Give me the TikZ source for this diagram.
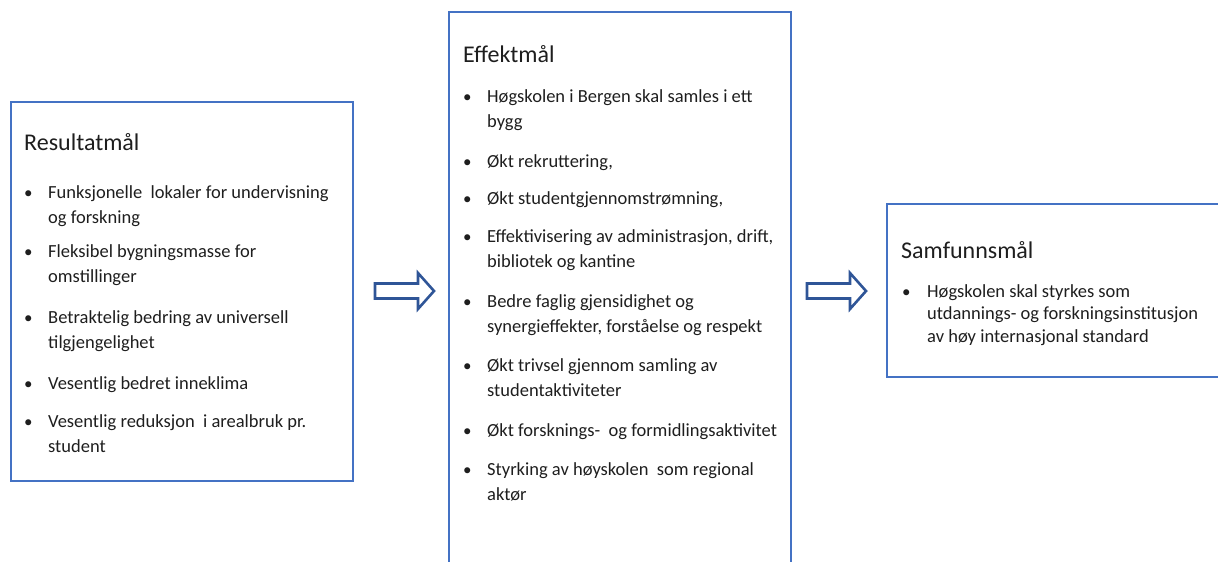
\documentclass[tikz,border=0pt]{standalone}
\usepackage{fontspec}
\setmainfont{Carlito}
\usetikzlibrary{positioning}
\definecolor{boxblue}{HTML}{4472C4}
\definecolor{arrowblue}{HTML}{2F5597}
\definecolor{inkgray}{HTML}{1E1E1E}
\newcommand{\goallines}[1]{\begin{tabular}[t]{@{}l@{}}#1\end{tabular}}
\tikzset{goalbox/.style={draw=boxblue, line width=2pt, inner sep=0, outer sep=0}}
\tikzset{goaltitle/.style={anchor=base west, inner sep=0, text=inkgray, font=\fontsize{24}{28}\selectfont}}
\tikzset{goalitem/.style={anchor=base west, inner sep=0, text=inkgray, font=\fontsize{18.5}{25}\selectfont}}
\tikzset{goalbullet/.style={anchor=base west, inner sep=0, text=inkgray, font=\fontsize{17}{25}\selectfont}}
\tikzset{hollowarrow/.pic={
        code={
        \draw[arrowblue, line width=2.6pt, line join=miter]
            (0,-7.5) -- (43,-7.5) -- (43,-18) -- (59,0) -- (43,18) -- (43,7.5) -- (0,7.5) -- cycle;
 	}
  }
}

\begin{document}
\begin{tikzpicture}[x=1pt,y=-1pt]
\clip (0,0) rectangle (1218,562);
% Boxes
\node[goalbox, anchor=north west, minimum width=342pt, minimum height=379pt] (result) at (11,102) {};
\node[goalbox, anchor=north west, minimum width=342pt, minimum height=570pt] (effect) at (449,12) {};
\node[goalbox, anchor=north west, minimum width=360pt, minimum height=173pt] (society) at (887,204) {};
%% Arrows
\path (375,291) pic[local bounding box=arrow1] {hollowarrow};
\path (807,291) pic[local bounding box=arrow2] {hollowarrow};
% Resultatmaal
\node[goaltitle] (resulttitle) at (24,150) {Resultatmål};
\foreach \y/\txt [count=\i] in {
    198/{Funksjonelle\ \ lokaler for undervisning\\og forskning},
    257/{Fleksibel bygningsmasse for\\omstillinger},
    323/{Betraktelig bedring av universell\\tilgjengelighet},
    389/{Vesentlig bedret inneklima},
    427/{Vesentlig reduksjon\ \ i arealbruk pr.\\student}}{
    \node[goalbullet] (resultdot\i) at (24,\y) {\textbullet};
    \node[goalitem] (resultitem\i) at (48,\y) {\goallines{\txt}};
}
% Effektmaal
\node[goaltitle] (effecttitle) at (463,62) {Effektmål};
\foreach \y/\txt [count=\i] in {
    102/{Høgskolen i Bergen skal samles i ett\\bygg},
    167/{Økt rekruttering,},
    204/{Økt studentgjennomstrømning,},
    242/{Effektivisering av administrasjon, drift,\\bibliotek og kantine},
    307/{Bedre faglig gjensidighet og\\synergieffekter, forståelse og respekt},
    371/{Økt trivsel gjennom samling av\\studentaktiviteter},
    436/{Økt forsknings-\ \ og formidlingsaktivitet},
    475/{Styrking av høyskolen\ \ som regional\\aktør}}{
    \node[goalbullet] (effectdot\i) at (463,\y) {\textbullet};
    \node[goalitem] (effectitem\i) at (487,\y) {\goallines{\txt}};
}
% Samfunnsmaal
\node[goaltitle] (societytitle) at (901,258) {Samfunnsmål};
\node[goalbullet] (societydot1) at (902,297) {\textbullet};
\node[goalitem, font=\fontsize{18.5}{22.5}\selectfont] (societyitem1) at (927,297)
    {\goallines{Høgskolen skal styrkes som\\utdannings- og forskningsinstitusjon\\av høy internasjonal standard}};
\end{tikzpicture}
\end{document}
